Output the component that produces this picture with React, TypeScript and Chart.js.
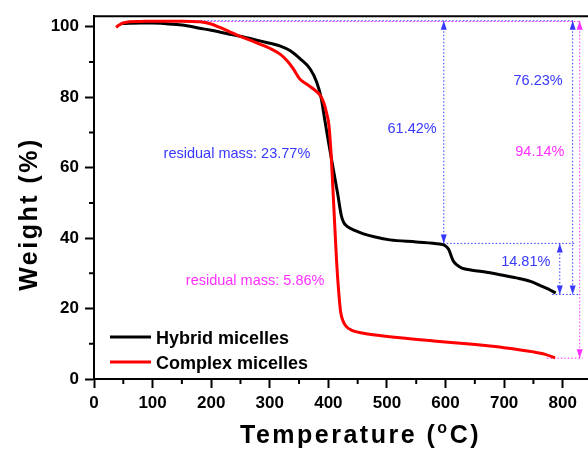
import React, { useEffect, useRef } from "react";
import { Chart, registerables } from "chart.js";

Chart.register(...registerables);

// ---- Data ----
const hybridTemp = [48, 60, 80, 100, 120, 150, 180, 200, 232, 260, 283, 300, 317, 335, 352, 369, 380, 388, 392, 400, 408, 416, 422, 426, 431, 445, 460, 480, 505, 550, 590, 598, 605, 613, 620, 628, 645, 670, 700, 721, 745, 761, 775, 788];
const hybridWeight = [100.9, 101.0, 101.1, 101.1, 100.9, 100.5, 99.6, 99.0, 97.9, 96.9, 96.0, 95.3, 94.6, 93.2, 90.9, 88.0, 84.3, 79.6, 75.5, 67.5, 60.0, 52.5, 46.5, 44.5, 43.5, 42.2, 41.2, 40.3, 39.5, 38.9, 38.3, 38.0, 36.9, 33.6, 32.3, 31.5, 30.9, 30.3, 29.4, 28.7, 27.7, 26.6, 25.6, 24.4];

const complexTemp = [38, 41, 44, 48, 53, 60, 80, 100, 150, 181, 200, 215, 230, 246, 265, 283, 300, 317, 330, 340, 351, 362, 374, 386, 392, 397, 401, 405, 409, 414, 418, 421, 425, 430, 440, 460, 490, 522, 580, 636, 700, 750, 770, 787];
const complexWeight = [99.8, 100.3, 100.6, 101.0, 101.2, 101.4, 101.5, 101.6, 101.6, 101.4, 100.8, 99.8, 98.7, 97.5, 96.3, 95.1, 93.9, 92.3, 90.3, 88.1, 85.2, 83.8, 82.4, 80.5, 78.5, 75.5, 72.0, 63.0, 50.0, 33.6, 24.0, 19.0, 16.5, 15.0, 13.8, 13.0, 12.3, 11.7, 10.8, 10.0, 8.9, 7.7, 7.0, 6.0];

const seriesLabels = ["Hybrid micelles", "Complex micelles"];
const seriesColors = ["#000000", "#ff0000"];

const xTicksMajor = [0, 100, 200, 300, 400, 500, 600, 700, 800];
const yTicksMajor = [0, 20, 40, 60, 80, 100];
const xMinor = [50, 150, 250, 350, 450, 550, 650, 750, 850];
const yMinor = [10, 30, 50, 70, 90];

const BLUE = "#3838ff";
const MAGENTA = "#ff30ff";

// annotation dotted lines: [x1, y1, x2, y2]
const blueLines = [
  [110, 101.7, 817, 101.7],
  [597, 101.7, 597, 38.5],
  [817, 101.7, 817, 24.0],
  [590, 38.5, 822, 38.5],
  [795, 38.5, 795, 24.0],
  [782, 24.0, 830, 24.0],
];
const magentaLines = [
  [114, 101.5, 829, 101.5],
  [829, 101.7, 829, 5.9],
  [773, 5.9, 834, 5.9],
];
// double-headed vertical arrows: [x, yTop, yBottom]
const blueArrows = [
  [597, 101.7, 38.5],
  [817, 101.7, 24.0],
  [795, 38.5, 24.0],
];
const magentaArrows = [[829, 101.7, 5.9]];

const labelTexts = ["61.42%", "76.23%", "94.14%", "14.81%", "residual mass: 23.77%", "residual mass: 5.86%"];
const labelX = [543, 758, 761, 737, 244, 275];
const labelY = [70.9, 84.7, 64.4, 33.3, 63.8, 27.7];
const labelColor = [BLUE, BLUE, MAGENTA, BLUE, BLUE, MAGENTA];

const FONT = "'Liberation Sans', Arial, Helvetica, sans-serif";

function toXY(xs: number[], ys: number[]) {
  return xs.map((x, i) => ({ x, y: ys[i] }));
}

const extrasPlugin = {
  id: "extras",
  afterDatasetsDraw(chart: any) {
    const ctx = chart.ctx as CanvasRenderingContext2D;
    const xs = chart.scales.x;
    const ys = chart.scales.y;
    const ca = chart.chartArea;
    ctx.save();
    // frame top & right
    ctx.strokeStyle = "#000";
    ctx.lineWidth = 2;
    ctx.beginPath();
    ctx.moveTo(ca.left, ca.top);
    ctx.lineTo(ca.right, ca.top);
    ctx.lineTo(ca.right, ca.bottom);
    ctx.stroke();
    // minor ticks
    ctx.lineWidth = 2;
    ctx.beginPath();
    xMinor.forEach((v) => {
      const px = xs.getPixelForValue(v);
      ctx.moveTo(px, ca.bottom);
      ctx.lineTo(px, ca.bottom + 5);
    });
    yMinor.forEach((v) => {
      const py = ys.getPixelForValue(v);
      ctx.moveTo(ca.left, py);
      ctx.lineTo(ca.left - 5, py);
    });
    ctx.stroke();

    // arrowheads
    const head = (x: number, y: number, dir: number, color: string) => {
      ctx.fillStyle = color;
      ctx.beginPath();
      ctx.moveTo(x, y);
      ctx.lineTo(x - 3, y - dir * 9);
      ctx.lineTo(x + 3, y - dir * 9);
      ctx.closePath();
      ctx.fill();
    };
    const drawArrows = (arr: number[][], color: string) => {
      arr.forEach(([x, y1, y2]) => {
        const px = xs.getPixelForValue(x);
        head(px, ys.getPixelForValue(y1), -1, color);
        head(px, ys.getPixelForValue(y2), 1, color);
      });
    };
    drawArrows(blueArrows, BLUE);
    drawArrows(magentaArrows, MAGENTA);

    // texts
    ctx.font = `14.5px ${FONT}`;
    ctx.textAlign = "center";
    ctx.textBaseline = "middle";
    labelTexts.forEach((t, i) => {
      ctx.fillStyle = labelColor[i];
      ctx.fillText(t, xs.getPixelForValue(labelX[i]), ys.getPixelForValue(labelY[i]));
    });

    // legend
    const legX = ca.left + 16;
    const legY = [337, 362];
    ctx.textAlign = "left";
    ctx.textBaseline = "alphabetic";
    ctx.font = `bold 18px ${FONT}`;
    seriesLabels.forEach((lab, i) => {
      ctx.strokeStyle = seriesColors[i];
      ctx.lineWidth = 3;
      ctx.beginPath();
      ctx.moveTo(legX, legY[i]);
      ctx.lineTo(legX + 41, legY[i]);
      ctx.stroke();
      ctx.fillStyle = "#000";
      ctx.fillText(lab, legX + 46, legY[i] + 6.5);
    });

    // axis titles
    ctx.fillStyle = "#000";
    (ctx as any).letterSpacing = "2.5px";
    ctx.font = `bold 25px ${FONT}`;
    // x title with superscript
    let cx = 240;
    const by = 443;
    const p1 = "Temperature (";
    ctx.fillText(p1, cx, by);
    cx += ctx.measureText(p1).width;
    ctx.font = `bold 16px ${FONT}`;
    ctx.fillText("o", cx, by - 10);
    cx += ctx.measureText("o").width;
    ctx.font = `bold 25px ${FONT}`;
    ctx.fillText("C)", cx, by);
    // y title
    ctx.save();
    ctx.translate(37, 214);
    ctx.rotate(-Math.PI / 2);
    ctx.textAlign = "left";
    const yt = "Weight (%)";
    const w = ctx.measureText(yt).width;
    ctx.fillText(yt, -w / 2, 0);
    ctx.restore();
    (ctx as any).letterSpacing = "0px";
    ctx.restore();
  },
};

export default function App() {
  const ref = useRef<HTMLCanvasElement | null>(null);
  useEffect(() => {
    if (!ref.current) return;
    const dotted = (seg: number[], color: string) => ({
      type: "line" as const,
      data: [
        { x: seg[0], y: seg[1] },
        { x: seg[2], y: seg[3] },
      ],
      borderColor: color,
      borderWidth: 1,
      borderDash: [1.5, 2],
      pointRadius: 0,
      fill: false,
      order: 5,
    });
    const chart = new Chart(ref.current, {
      type: "line",
      data: {
        datasets: [
          {
            label: seriesLabels[0],
            data: toXY(hybridTemp, hybridWeight),
            borderColor: seriesColors[0],
            borderWidth: 3,
            pointRadius: 0,
            cubicInterpolationMode: "monotone",
            fill: false,
            order: 1,
          },
          {
            label: seriesLabels[1],
            data: toXY(complexTemp, complexWeight),
            borderColor: seriesColors[1],
            borderWidth: 3,
            pointRadius: 0,
            cubicInterpolationMode: "monotone",
            fill: false,
            order: 0,
          },
          ...blueLines.map((s) => dotted(s, BLUE)),
          ...magentaLines.map((s) => dotted(s, MAGENTA)),
        ] as any,
      },
      options: {
        animation: false,
        responsive: false,
        maintainAspectRatio: false,
        devicePixelRatio: 1,
        layout: { padding: { top: 14, right: 8, left: 0, bottom: 0 } },
        plugins: { legend: { display: false }, tooltip: { enabled: false }, title: { display: false } },
        scales: {
          x: {
            type: "linear",
            min: 0,
            max: 850,
            afterFit: (s: any) => {
              s.height = 70;
            },
            afterBuildTicks: (s: any) => {
              s.ticks = xTicksMajor.map((v) => ({ value: v }));
            },
            ticks: {
              font: { family: FONT, size: 17, weight: "bold" },
              color: "#000",
              padding: 5,
              maxRotation: 0,
              autoSkip: false,
              callback: (v: any) => String(v),
            },
            grid: { drawOnChartArea: false, drawTicks: true, tickLength: 9, tickWidth: 2, tickColor: "#000" },
            border: { display: true, color: "#000", width: 2 },
          },
          y: {
            type: "linear",
            min: 0,
            max: 103,
            afterFit: (s: any) => {
              s.width = 94;
            },
            afterBuildTicks: (s: any) => {
              s.ticks = yTicksMajor.map((v) => ({ value: v }));
            },
            ticks: {
              font: { family: FONT, size: 17, weight: "bold" },
              color: "#000",
              padding: 6,
              autoSkip: false,
              callback: (v: any) => String(v),
            },
            grid: { drawOnChartArea: false, drawTicks: true, tickLength: 9, tickWidth: 2, tickColor: "#000" },
            border: { display: true, color: "#000", width: 2 },
          },
        },
      } as any,
      plugins: [extrasPlugin],
    });
    return () => chart.destroy();
  }, []);
  return (
    <div
      style={{
        position: "fixed",
        left: 0,
        top: 0,
        width: 588,
        height: 449,
        overflow: "hidden",
        background: "#fff",
      }}
    >
      <canvas ref={ref} width={600} height={449} style={{ display: "block", width: 600, height: 449 }} />
    </div>
  );
}
